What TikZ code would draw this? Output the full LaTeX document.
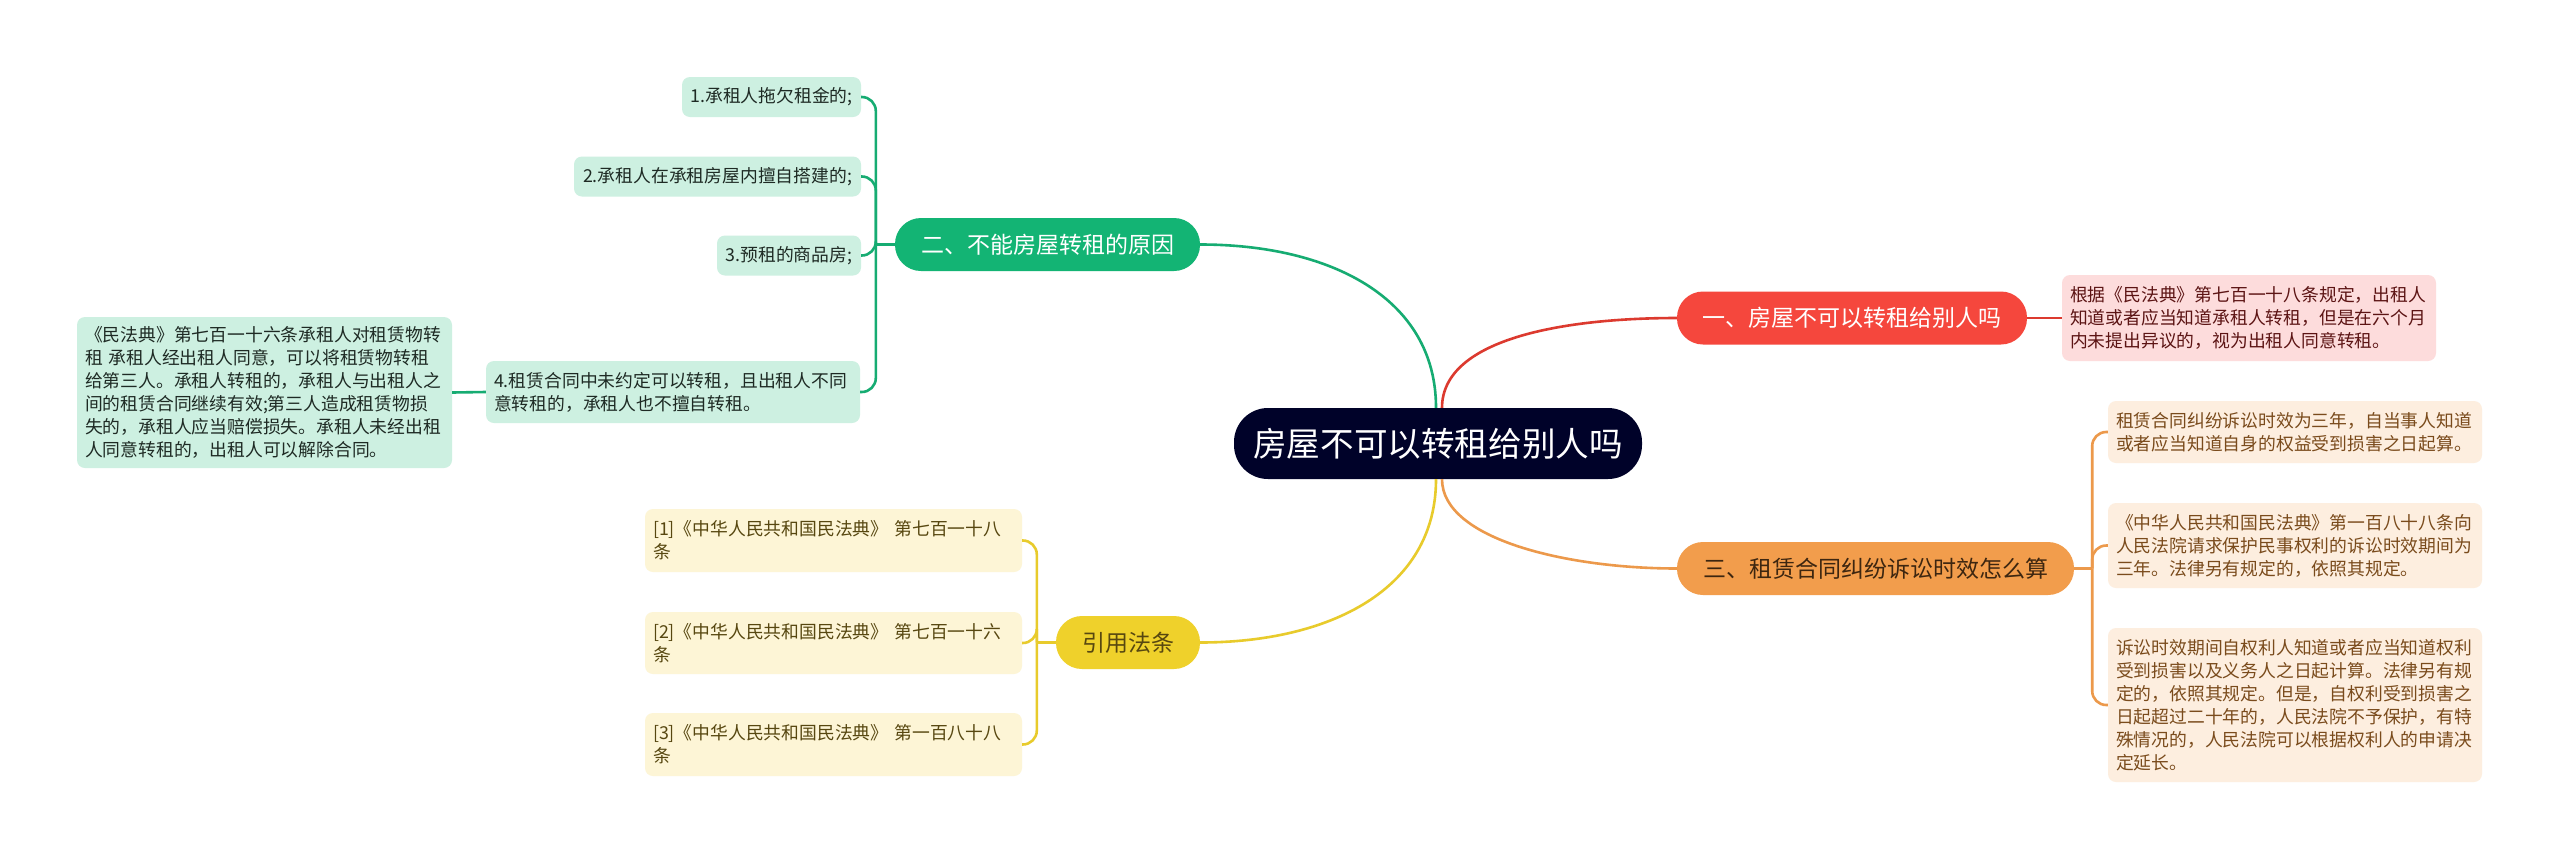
\documentclass[tikz,border=0pt]{standalone}
\usepackage{fontspec}
\usepackage{xcolor}
\usepackage{tikz}
\newfontfamily\cjk{Noto Sans CJK SC}
\definecolor{rootbg}{HTML}{000229}
\definecolor{redbr}{HTML}{F5473D}
\definecolor{redln}{HTML}{DC3A2F}
\definecolor{redlf}{HTML}{FDDCDC}
\definecolor{redtx}{HTML}{5C1414}
\definecolor{grnbr}{HTML}{13B474}
\definecolor{grnln}{HTML}{16AC72}
\definecolor{grnlf}{HTML}{CDF0E1}
\definecolor{grntx}{HTML}{1E2A24}
\definecolor{orgbr}{HTML}{F29D4C}
\definecolor{orgln}{HTML}{EC994B}
\definecolor{orglf}{HTML}{FDEEDF}
\definecolor{orgtx}{HTML}{7A4B1C}
\definecolor{orgbt}{HTML}{3D2610}
\definecolor{ylwbr}{HTML}{EFD12B}
\definecolor{ylwln}{HTML}{E8CB2C}
\definecolor{ylwlf}{HTML}{FDF5D6}
\definecolor{ylwtx}{HTML}{574710}
\tikzset{root/.style={fill=rootbg,text=white,rounded corners=34pt,inner sep=0pt,minimum width=408pt,minimum height=71pt,font=\cjk\fontsize{33.6}{40}\selectfont},
  br/.style={rounded corners=26pt,inner sep=0pt,minimum height=53pt,font=\cjk\fontsize{23}{28}\selectfont},
  lf/.style={rounded corners=8pt,inner xsep=8pt,inner ysep=0pt,align=left,font=\cjk\fontsize{17.8}{23}\selectfont},
  ln/.style={line width=2.6pt}}

\begin{document}
\begin{tikzpicture}[x=1pt,y=-1pt]
\fill[white] (0,0) rectangle (2560,860);
\useasboundingbox (0,0) rectangle (2560,860);
% centre and main branches
\node[root] (root) at (1438,443.5) {房屋不可以转租给别人吗};
\node[br,fill=redbr,text=white,minimum width=350pt] (b1) at (1852,318) {一、房屋不可以转租给别人吗};
\node[br,fill=grnbr,text=white,minimum width=305pt] (b2) at (1047.5,244.5) {二、不能房屋转租的原因};
\node[br,fill=orgbr,text=orgbt,minimum width=397pt] (b3) at (1875.5,568.5) {三、租赁合同纠纷诉讼时效怎么算};
\node[br,fill=ylwbr,text=ylwtx,minimum width=144pt] (b4) at (1128,642.5) {引用法条};
% leaves
\node[lf,fill=redlf,text=redtx,text width=358pt,minimum height=86pt] (r1) at (2249,318) {根据《民法典》第七百一十八条规定，出租人\\知道或者应当知道承租人转租，但是在六个月\\内未提出异议的，视为出租人同意转租。};
\node[lf,fill=grnlf,text=grntx,minimum width=179pt,minimum height=40pt] (g1) at (771.5,97) {1.承租人拖欠租金的;};
\node[lf,fill=grnlf,text=grntx,minimum width=287pt,minimum height=40pt] (g2) at (717.5,176.5) {2.承租人在承租房屋内擅自搭建的;};
\node[lf,fill=grnlf,text=grntx,minimum width=144pt,minimum height=40pt] (g3) at (789,255.5) {3.预租的商品房;};
\node[lf,fill=grnlf,text=grntx,text width=358pt,minimum height=62pt] (g4) at (673,392) {4.租赁合同中未约定可以转租，且出租人不同\\意转租的，承租人也不擅自转租。};
\node[lf,fill=grnlf,text=grntx,text width=359pt,minimum height=151pt] (g5) at (264.5,392.5) {《民法典》第七百一十六条承租人对租赁物转\\租 承租人经出租人同意，可以将租赁物转租\\给第三人。承租人转租的，承租人与出租人之\\间的租赁合同继续有效;第三人造成租赁物损\\失的，承租人应当赔偿损失。承租人未经出租\\人同意转租的，出租人可以解除合同。};
\node[lf,fill=orglf,text=orgtx,text width=358pt,minimum height=62pt] (o1) at (2295,432) {租赁合同纠纷诉讼时效为三年，自当事人知道\\或者应当知道自身的权益受到损害之日起算。};
\node[lf,fill=orglf,text=orgtx,text width=358pt,minimum height=85pt] (o2) at (2295,545.5) {《中华人民共和国民法典》第一百八十八条向\\人民法院请求保护民事权利的诉讼时效期间为\\三年。法律另有规定的，依照其规定。};
\node[lf,fill=orglf,text=orgtx,text width=358pt,minimum height=154pt] (o3) at (2295,705) {诉讼时效期间自权利人知道或者应当知道权利\\受到损害以及义务人之日起计算。法律另有规\\定的，依照其规定。但是，自权利受到损害之\\日起超过二十年的，人民法院不予保护，有特\\殊情况的，人民法院可以根据权利人的申请决\\定延长。};
\node[lf,fill=ylwlf,text=ylwtx,text width=361pt,minimum height=63pt] (y1) at (833.5,540.5) {[1]《中华人民共和国民法典》 第七百一十八\\条};
\node[lf,fill=ylwlf,text=ylwtx,text width=361pt,minimum height=62pt] (y2) at (833.5,643) {[2]《中华人民共和国民法典》 第七百一十六\\条};
\node[lf,fill=ylwlf,text=ylwtx,text width=361pt,minimum height=63pt] (y3) at (833.5,744.5) {[3]《中华人民共和国民法典》 第一百八十八\\条};
% connectors
\draw[ln,redln] ([xshift=4pt]root.north) .. controls +(0,-70) and +(-110,0) .. (b1.west);
\draw[ln,grnln] ([xshift=-2pt]root.north) .. controls +(0,-110) and +(130,0) .. (b2.east);
\draw[ln,orgln] ([xshift=4pt]root.south) .. controls +(0,60) and +(-110,0) .. (b3.west);
\draw[ln,ylwln] ([xshift=-2pt]root.south) .. controls +(0,110) and +(130,0) .. (b4.east);
\draw[ln,redln] (b1.east) -- (r1.west);
\draw[ln,grnln] (b2.west) -- ++(-19,0) coordinate (gt);
\foreach \n in {g1,g2,g3,g4}{\draw[ln,grnln,rounded corners=14pt] (gt) |- (\n.east);}
\draw[ln,grnln] (g4.west) -- (g5.east);
\draw[ln,orgln] (b3.east) -- ++(18,0) coordinate (ot);
\foreach \n in {o1,o2,o3}{\draw[ln,orgln,rounded corners=14pt] (ot) |- (\n.west);}
\draw[ln,ylwln] (b4.west) -- ++(-19,0) coordinate (yt);
\foreach \n in {y1,y2,y3}{\draw[ln,ylwln,rounded corners=14pt] (yt) |- (\n.east);}
\end{tikzpicture}
\end{document}
